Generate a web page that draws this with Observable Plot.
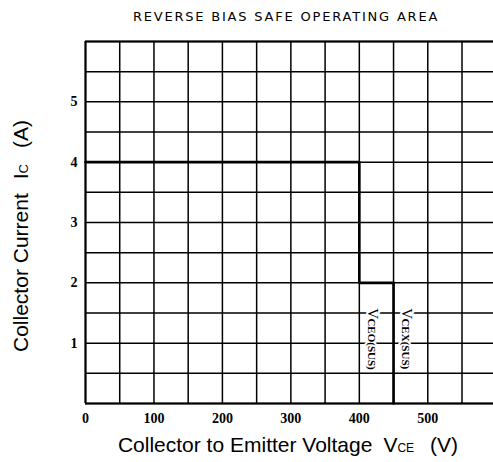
<!DOCTYPE html>
<html>
<head>
<meta charset="utf-8">
<script src="https://cdn.jsdelivr.net/npm/d3@7"></script>
<script src="https://cdn.jsdelivr.net/npm/@observablehq/plot@0.6"></script>
<style>
  html, body { margin: 0; padding: 0; background: white; }
</style>
</head>
<body>
<div id="chart"></div>
<script>
// Grid positions (V and A)
const vGrid = [0, 50, 100, 150, 200, 250, 300, 350, 400, 450, 500, 550];
const iGrid = [0, 0.5, 1, 1.5, 2, 2.5, 3, 3.5, 4, 4.5, 5, 5.5, 6];
// Tick labels
const xTicks = [0, 100, 200, 300, 400, 500];
const yTicks = [1, 2, 3, 4, 5];
// Safe operating area boundary
const soaV = [0, 400, 400, 450, 450];
const soaI = [4, 4, 2, 2, 0];
// Sustaining-voltage annotations
const annV = [419, 469];
const annMain = ["V", "V"];
const annSub = ["CEO(SUS)", "CEX(SUS)"];
const annTopI = [1.58, 1.58];
const annSubTopI = [1.41, 1.41];

const soa = soaV.map((v, k) => ({v, i: soaI[k]}));
const ann = annV.map((v, k) => ({v, main: annMain[k], sub: annSub[k], top: annTopI[k], subTop: annSubTopI[k]}));

const W = 493, H = 462;
const chart = Plot.plot({
  width: W,
  height: H,
  marginLeft: 85,
  marginRight: 0,
  marginTop: 41,
  marginBottom: 59,
  style: {background: "white", color: "black", fontFamily: "'Liberation Serif', serif"},
  x: {domain: [0, 596]},
  y: {domain: [0, 6]},
  marks: [
    Plot.ruleX(vGrid, {x: d => d, stroke: "black", strokeWidth: 1.5}),
    Plot.ruleY(iGrid, {y: d => d, stroke: "black", strokeWidth: 1.5}),
    Plot.ruleX([0], {x: d => d, stroke: "black", strokeWidth: 2}),
    Plot.ruleY([0, 6], {y: d => d, stroke: "black", strokeWidth: 2}),
    Plot.line(soa, {x: "v", y: "i", stroke: "black", strokeWidth: 2.6}),
    Plot.text(ann, {x: "v", y: "top", text: "main", rotate: 90, textAnchor: "start",
      fontSize: 15, fill: "black", stroke: "white", strokeWidth: 4}),
    Plot.text(ann, {x: "v", y: "subTop", text: "sub", rotate: 90, textAnchor: "start", dx: -1,
      fontSize: 11, fontWeight: "bold", fill: "black", stroke: "white", strokeWidth: 4}),
    Plot.axisX({ticks: xTicks, tickSize: 0, tickPadding: 10, fontSize: 14, fontWeight: "bold",
      tickFormat: d => String(d), label: null}),
    Plot.axisY({ticks: yTicks, tickSize: 0, tickPadding: 8, fontSize: 14, fontWeight: "bold",
      tickFormat: d => String(d), label: null})
  ]
});
document.getElementById("chart").appendChild(chart);

const svg = d3.select(chart);
// Title
svg.append("text")
  .attr("x", 286).attr("y", 21)
  .attr("text-anchor", "middle")
  .style("font-family", "'DejaVu Sans', sans-serif")
  .style("font-size", "13px")
  .style("letter-spacing", "1.8px")
  .attr("fill", "black")
  .text("REVERSE BIAS SAFE OPERATING AREA");

// X axis title
const xt = svg.append("text")
  .attr("x", 288).attr("y", 452)
  .attr("text-anchor", "middle")
  .style("font-family", "'Liberation Sans', Arial, sans-serif")
  .style("font-size", "21px")
  .attr("fill", "black");
xt.append("tspan").text("Collector to Emitter Voltage");
xt.append("tspan").attr("dx", 11).text("V");
xt.append("tspan").style("font-size", "12px").text("CE");
xt.append("tspan").attr("dx", 16).text("(V)");

// Y axis title
const yt = svg.append("text")
  .attr("transform", "translate(28,236) rotate(-90)")
  .attr("text-anchor", "middle")
  .style("font-family", "'Liberation Sans', Arial, sans-serif")
  .style("font-size", "21px")
  .attr("fill", "black");
yt.append("tspan").text("Collector Current");
yt.append("tspan").attr("dx", 14).text("I");
yt.append("tspan").style("font-size", "13px").text("C");
yt.append("tspan").attr("dx", 16).text("(A)");
</script>
</body>
</html>
